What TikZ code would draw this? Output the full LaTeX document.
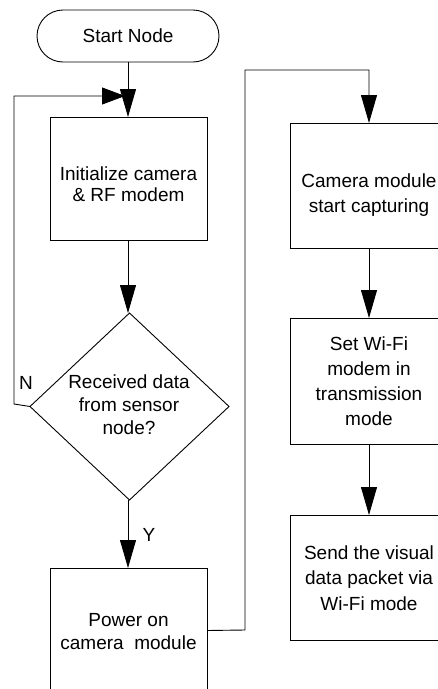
\documentclass[tikz,border=0pt]{standalone}
\usepackage{fontspec}
\setmainfont{Liberation Sans}
\usetikzlibrary{arrows.meta,shapes.geometric}
\tikzset{
  ln/.style={line width=0.9pt, draw=black},
  arr/.style={ln, -{Triangle[length=28pt,width=16pt]}},
  box/.style={ln, rectangle, inner sep=0pt, outer sep=0pt},
  txt/.style={align=center, inner sep=0pt, font=\fontsize{19}{23}\selectfont},
  txtr/.style={align=center, inner sep=0pt, font=\fontsize{19}{25}\selectfont},
}
\begin{document}
\begin{tikzpicture}[x=1pt,y=-1pt]
\useasboundingbox (0,0) rectangle (438,689);
\clip (0,0) rectangle (438,689);
% shapes
\node[box, rounded corners=26pt, minimum width=182pt, minimum height=52pt] (start) at (128,36) {};
\node[txt] (startT) at (128,36) {Start Node};
\node[box, minimum width=157pt, minimum height=123pt] (init) at (128.5,178.5) {};
\node[txt, font=\fontsize{19}{21.5}\selectfont] (initT) at (128.5,184) {Initialize camera\\\& RF modem};
\node[ln, diamond, inner sep=0pt, outer sep=0pt, minimum width=199pt, minimum height=187pt] (dec) at (129.5,406.5) {};
\node[txt] (decT) at (129,405) {Received data\\from sensor\\node?};
\node[box, minimum width=157pt, minimum height=125pt] (power) at (128.5,630.5) {};
\node[txt] (powerT) at (128.5,631.5) {Power on\\camera~ module};
\node[box, minimum width=158pt, minimum height=125pt] (cam) at (369,185.5) {};
\node[txtr] (camT) at (369,195.5) {Camera module\\start capturing};
\node[box, minimum width=158pt, minimum height=126pt] (wifi) at (369,381) {};
\node[txtr] (wifiT) at (369,381.5) {Set Wi-Fi\\modem in\\transmission\\mode};
\node[box, minimum width=158pt, minimum height=125pt] (send) at (369,577.5) {};
\node[txtr, font=\fontsize{19}{25.5}\selectfont] (sendT) at (369,578) {Send the visual\\data packet via\\Wi-Fi mode};
% labels
\node[txt] (N) at (26,383) {N};
\node[txt] (Y) at (149,535) {Y};
% connectors
\draw[arr] (start.south) -- (start.south |- init.north);
\coordinate (fbend) at (125,96);
\draw[ln, -{Triangle[length=23pt,width=17pt]}] (dec.west) -- (14,404) -- (14,96) -- (fbend);
\draw[arr] (init.south -| 128,0) -- (dec.north -| 128,0);
\draw[arr] (dec.south -| 128,0) -- (power.north -| 128,0);
\draw[ln, -{Triangle[length=28pt,width=16pt]}] (power.east) -- (245,630) -- (245,70) -- (369,70) -- (cam.north);
\draw[arr] (cam.south) -- (wifi.north);
\draw[arr] (wifi.south) -- (send.north);
\end{tikzpicture}
\end{document}
